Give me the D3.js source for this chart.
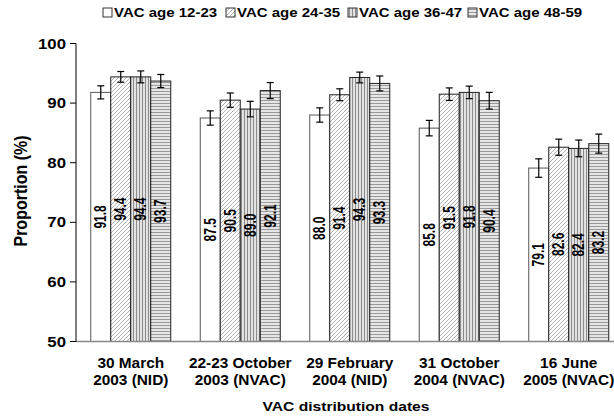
<!DOCTYPE html>
<html>
<head>
<meta charset="utf-8">
<script src="https://cdn.jsdelivr.net/npm/d3@7"></script>
<style>
  body { margin: 0; background: #fff; }
  text { font-family: "Liberation Sans", Arial, sans-serif; font-weight: bold; fill: #000; }
</style>
</head>
<body>
<div id="chart"></div>
<script>
//data
var categories = [
  ["30 March", "2003 (NID)"],
  ["22-23 October", "2003 (NVAC)"],
  ["29 February", "2004 (NID)"],
  ["31 October", "2004 (NVAC)"],
  ["16 June", "2005 (NVAC)"]
];
var seriesNames = ["VAC age 12-23", "VAC age 24-35", "VAC age 36-47", "VAC age 48-59"];
var age1223 = [91.8, 87.5, 88.0, 85.8, 79.1];
var age2435 = [94.4, 90.5, 91.4, 91.5, 82.6];
var age3647 = [94.4, 89.0, 94.3, 91.8, 82.4];
var age4859 = [93.7, 92.1, 93.3, 90.4, 83.2];
//half length of the error bars
var err1223 = [1.1, 1.2, 1.2, 1.3, 1.55];
var err2435 = [0.9, 1.2, 1.0, 1.05, 1.35];
var err3647 = [1.0, 1.3, 0.9, 1.05, 1.4];
var err4859 = [1.1, 1.35, 1.25, 1.4, 1.6];
var yTicks = [50, 60, 70, 80, 90, 100];

var allValues = [age1223, age2435, age3647, age4859];
var allErrors = [err1223, err2435, err3647, err4859];
var fills = ["#fff", "url(#diag)", "url(#vert)", "url(#horiz)"];
var strokes = ["#555", "#222", "#222", "#222"];

//text in the picture is drawn a bit wider than tall
var sx = 1.3;

var svgWidth = 614;
var svgHeight = 418;

var svg = d3.select("#chart")
  .append("svg")
  .attr("width", svgWidth)
  .attr("height", svgHeight);

//patterns
var defs = svg.append("defs");
var diag = defs.append("pattern").attr("id", "diag")
  .attr("patternUnits", "userSpaceOnUse").attr("width", 4).attr("height", 4);
diag.append("rect").attr("width", 4).attr("height", 4).attr("fill", "#fff");
diag.append("path").attr("d", "M-1,1 l2,-2 M0,4 l4,-4 M3,5 l2,-2")
  .attr("stroke", "#a0a0a0").attr("stroke-width", 0.8);

var vert = defs.append("pattern").attr("id", "vert")
  .attr("patternUnits", "userSpaceOnUse").attr("width", 3).attr("height", 3);
vert.append("rect").attr("width", 3).attr("height", 3).attr("fill", "#e2e2e2");
vert.append("rect").attr("x", 1).attr("width", 1).attr("height", 3).attr("fill", "#8c8c8c");

var horiz = defs.append("pattern").attr("id", "horiz")
  .attr("patternUnits", "userSpaceOnUse").attr("width", 3).attr("height", 3);
horiz.append("rect").attr("width", 3).attr("height", 3).attr("fill", "#e6e6e6");
horiz.append("rect").attr("y", 1).attr("width", 3).attr("height", 1).attr("fill", "#999");

//scales
var yScale = d3.scaleLinear().domain([50, 100]).range([341.5, 43.5]);
var xScale = d3.scaleBand()
  .domain(d3.range(categories.length))
  .range([76, 623.5])
  .paddingInner(0.2694)
  .paddingOuter(0.1347);
var xInner = d3.scaleBand()
  .domain(d3.range(seriesNames.length))
  .range([0, xScale.bandwidth()]);

//bars
allValues.forEach(function(vals, s) {
  var g = svg.append("g");
  g.selectAll("rect")
    .data(vals)
    .enter()
    .append("rect")
    .attr("x", (d, i) => xScale(i) + xInner(s))
    .attr("y", d => yScale(d))
    .attr("width", xInner.bandwidth())
    .attr("height", d => yScale(50) - yScale(d))
    .attr("fill", fills[s])
    .attr("stroke", strokes[s])
    .attr("stroke-width", 1);

  //error bars
  var errs = allErrors[s];
  var eb = g.selectAll(".err")
    .data(vals)
    .enter()
    .append("g")
    .attr("stroke", "#000")
    .attr("stroke-width", 1.2);
  eb.append("line")
    .attr("x1", (d, i) => xScale(i) + xInner(s) + xInner.bandwidth() / 2)
    .attr("x2", (d, i) => xScale(i) + xInner(s) + xInner.bandwidth() / 2)
    .attr("y1", (d, i) => yScale(d + errs[i]))
    .attr("y2", (d, i) => yScale(d - errs[i]));
  [1, -1].forEach(function(sign) {
    eb.append("line")
      .attr("x1", (d, i) => xScale(i) + xInner(s) + xInner.bandwidth() / 2 - 3.5)
      .attr("x2", (d, i) => xScale(i) + xInner(s) + xInner.bandwidth() / 2 + 3.5)
      .attr("y1", (d, i) => yScale(d + sign * errs[i]))
      .attr("y2", (d, i) => yScale(d + sign * errs[i]));
  });

  //value labels, centred in the visible part of the bar
  g.selectAll(".val")
    .data(vals)
    .enter()
    .append("text")
    .attr("transform", (d, i) => "translate(" + (xScale(i) + xInner(s) + xInner.bandwidth() / 2) + "," + yScale((d + 50) / 2) + ") scale(" + sx + ",1) rotate(-90)")
    .attr("text-anchor", "middle")
    .attr("dy", "0.35em")
    .style("font-size", "12px")
    .text(d => d.toFixed(1));
});

//axes
svg.append("line")
  .attr("x1", 76).attr("x2", svgWidth)
  .attr("y1", yScale(50)).attr("y2", yScale(50))
  .attr("stroke", "#888").attr("stroke-width", 1.5);
svg.append("line")
  .attr("x1", 76).attr("x2", 76)
  .attr("y1", yScale(100)).attr("y2", yScale(50))
  .attr("stroke", "#000").attr("stroke-width", 1);
svg.selectAll(".ytick")
  .data(yTicks)
  .enter()
  .append("line")
  .attr("x1", 70).attr("x2", 76)
  .attr("y1", d => yScale(d)).attr("y2", d => yScale(d))
  .attr("stroke", "#000");
svg.selectAll(".ylab")
  .data(yTicks)
  .enter()
  .append("text")
  .attr("transform", d => "translate(66," + yScale(d) + ") scale(1.2,1)")
  .attr("text-anchor", "end")
  .attr("dy", "0.36em")
  .style("font-size", "14px")
  .text(d => d);

//y title
svg.append("text")
  .attr("transform", "translate(21,191) scale(1.15,1) rotate(-90)")
  .attr("text-anchor", "middle")
  .attr("dy", "0.35em")
  .style("font-size", "16px")
  .text("Proportion (%)");

//category labels
categories.forEach(function(lines, i) {
  lines.forEach(function(line, k) {
    svg.append("text")
      .attr("transform", "translate(" + (xScale(i) + xScale.bandwidth() / 2) + "," + (367.5 + k * 17.5) + ") scale(1.1,1)")
      .attr("text-anchor", "middle")
      .style("font-size", "14px")
      .text(line);
  });
});

//x title
svg.append("text")
  .attr("transform", "translate(346,411) scale(1.2,1)")
  .attr("text-anchor", "middle")
  .style("font-size", "13px")
  .text("VAC distribution dates");

//legend
var legendX = [103, 226, 348, 468];
var legend = svg.selectAll(".legend")
  .data(seriesNames)
  .enter()
  .append("g")
  .attr("transform", (d, i) => "translate(" + legendX[i] + ",8)");
legend.append("rect")
  .attr("width", 9).attr("height", 9)
  .attr("fill", (d, i) => fills[i])
  .attr("stroke", "#333");
legend.append("text")
  .attr("transform", "translate(11,9) scale(1.25,1)")
  .style("font-size", "12px")
  .text(d => d);
</script>
</body>
</html>
